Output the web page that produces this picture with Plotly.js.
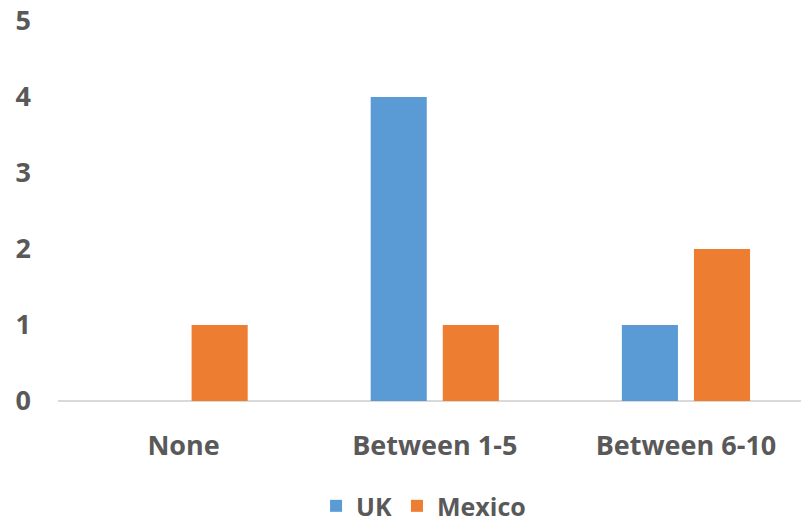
<!DOCTYPE html>
<html>
<head>
<meta charset="utf-8">
<script src="https://cdn.plot.ly/plotly-3.0.1.min.js"></script>
<style>
  html, body { margin: 0; padding: 0; background: #fff; }
  #chart { width: 801px; height: 522px; }
</style>
</head>
<body>
<div id="chart"></div>
<script>
// Number of respondents per answer group
const categories = ['None', 'Between 1-5', 'Between 6-10'];
const ukValues = [0, 4, 1];
const mexicoValues = [1, 1, 2];
const yTicks = [0, 1, 2, 3, 4, 5];

const textFont = { family: 'Open Sans, sans-serif', size: 27, color: '#595959', weight: 'bold' };
const legendFont = { family: 'Open Sans, sans-serif', size: 25, color: '#595959', weight: 'bold' };

const traces = [
  { type: 'bar', name: 'UK', x: categories, y: ukValues,
    marker: { color: '#5B9BD5', line: { width: 0 } }, hoverinfo: 'x+y+name' },
  { type: 'bar', name: 'Mexico', x: categories, y: mexicoValues,
    marker: { color: '#ED7D31', line: { width: 0 } }, hoverinfo: 'x+y+name' }
];

const layout = {
  width: 801, height: 522,
  paper_bgcolor: '#ffffff', plot_bgcolor: '#ffffff',
  margin: { l: 58, r: 0, t: 21, b: 121, autoexpand: false },
  barmode: 'group',
  bargap: 0.426,
  bargroupgap: 0.222,
  font: textFont,
  showlegend: true,
  legend: {
    orientation: 'h', x: 0.492, xanchor: 'center', y: -0.216, yanchor: 'top',
    font: legendFont, itemclick: false, itemwidth: 30
  },
  xaxis: {
    type: 'category', range: [-0.5, 2.458],
    showgrid: false, showline: false, zeroline: false,
    ticks: '', ticklabelstandoff: 26, tickfont: textFont
  },
  yaxis: {
    range: [0, 5], tickvals: yTicks, ticktext: yTicks.map(String),
    showgrid: false, showline: false,
    zeroline: true, zerolinecolor: '#D9D9D9', zerolinewidth: 2,
    ticks: '', ticklabelstandoff: 26, tickfont: textFont
  }
};

Plotly.newPlot('chart', traces, layout, { displayModeBar: false, staticPlot: true });
</script>
</body>
</html>
